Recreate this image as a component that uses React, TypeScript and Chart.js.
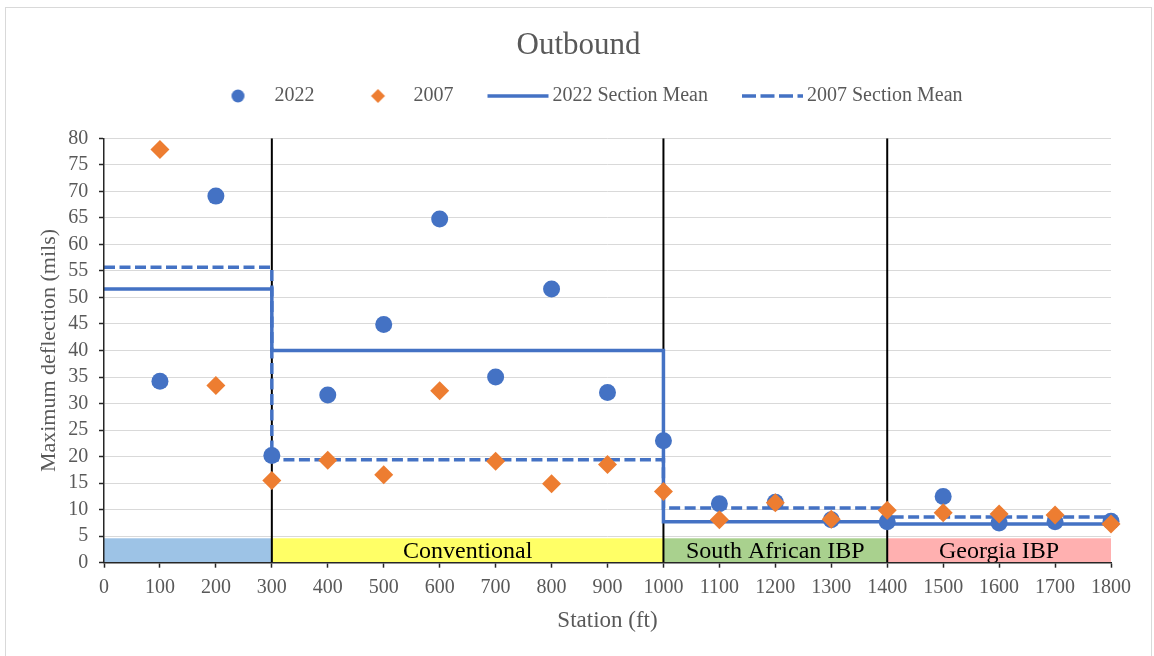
import React, { useEffect, useRef } from 'react';
import { Chart, registerables } from 'chart.js';

Chart.register(...registerables);

// ---- data ----
const stations = [100, 200, 300, 400, 500, 600, 700, 800, 900, 1000, 1100, 1200, 1300, 1400, 1500, 1600, 1700, 1800];
const deflection2022 = [34.2, 69.1, 20.2, 31.6, 44.9, 64.8, 35.0, 51.6, 32.1, 23.0, 11.1, 11.4, 8.1, 7.7, 12.5, 7.5, 7.7, 7.8];
const deflection2007 = [77.9, 33.4, 15.5, 19.3, 16.6, 32.4, 19.1, 14.9, 18.5, 13.4, 8.1, 11.3, 8.2, 9.9, 9.4, 9.2, 9.0, 7.3];
const sectionBounds = [0, 300, 1000, 1400, 1800];
const sectionMean2022 = [51.6, 40.0, 7.7, 7.3];
const sectionMean2007 = [55.7, 19.4, 10.3, 8.6];
const sectionNames = ['', 'Conventional', 'South African IBP', 'Georgia IBP'];
const sectionBandTop = 4.6;
const legendLabels = ['2022', '2007', '2022 Section Mean', '2007 Section Mean'];
const xRange = [0, 1800];
const xStep = 100;
const yRange = [0, 80];
const yStep = 5;

// ---- styles ----
const FONT = "'Liberation Serif', 'Times New Roman', serif";
const BLUE = '#4472C4';
const ORANGE = '#ED7D31';
const TEXT = '#595959';
const AXIS = '#262626';
const GRID = '#D9D9D9';
const BAND_COLORS = ['#9DC3E6', '#FFFF66', '#A9D18E', '#FFB0B0'];

const stepPoints = (means: number[]) =>
  means.flatMap((m, i) => [
    { x: sectionBounds[i], y: m },
    { x: sectionBounds[i + 1], y: m },
  ]);

function makeIcon(kind: string): HTMLCanvasElement {
  const c = document.createElement('canvas');
  c.width = 180;
  c.height = 24;
  const g = c.getContext('2d')!;
  const ts = 135; // text start position inside the icon image
  const cy = 12;
  if (kind === 'circle') {
    g.fillStyle = BLUE;
    g.beginPath();
    g.arc(ts - 36.5, cy, 6.5, 0, Math.PI * 2);
    g.fill();
  } else if (kind === 'diamond') {
    const cx = ts - 35.5;
    const r = 7;
    g.fillStyle = ORANGE;
    g.beginPath();
    g.moveTo(cx, cy - r);
    g.lineTo(cx + r, cy);
    g.lineTo(cx, cy + r);
    g.lineTo(cx - r, cy);
    g.closePath();
    g.fill();
  } else {
    g.strokeStyle = BLUE;
    g.lineWidth = 3.5;
    if (kind === 'dash') g.setLineDash([14, 4.5]);
    g.beginPath();
    g.moveTo(ts - 65, cy);
    g.lineTo(ts - 4, cy);
    g.stroke();
  }
  return c;
}

const sectionBandsPlugin = {
  id: 'sectionBands',
  beforeDatasetsDraw(chart: any) {
    const { ctx, scales } = chart;
    const x = scales.x;
    const y = scales.y;
    ctx.save();
    for (let i = 0; i < sectionNames.length; i++) {
      const x0 = x.getPixelForValue(sectionBounds[i]);
      const x1 = x.getPixelForValue(sectionBounds[i + 1]);
      const yTop = y.getPixelForValue(sectionBandTop);
      const yBot = y.getPixelForValue(0);
      ctx.fillStyle = BAND_COLORS[i];
      ctx.fillRect(x0, yTop, x1 - x0, yBot - yTop);
      if (sectionNames[i]) {
        ctx.fillStyle = '#000000';
        ctx.font = `24px ${FONT}`;
        ctx.textAlign = 'center';
        ctx.textBaseline = 'middle';
        ctx.fillText(sectionNames[i], (x0 + x1) / 2, y.getPixelForValue(sectionBandTop / 2) + 1);
      }
    }
    ctx.restore();
  },
};

const legendGapPlugin = {
  id: 'legendGap',
  beforeInit(chart: any) {
    const lg = chart.legend;
    if (!lg) return;
    const orig = lg.fit;
    lg.fit = function () {
      orig.call(this);
      this.height += 22.3;
    };
  },
};

export default function App() {
  const ref = useRef<HTMLCanvasElement | null>(null);

  useEffect(() => {
    if (!ref.current) return;
    const icons = [makeIcon('circle'), makeIcon('diamond'), makeIcon('solid'), makeIcon('dash')];

    const boundaryLines = sectionBounds.slice(1, -1).map((b) => ({
      type: 'line' as const,
      label: `boundary ${b}`,
      data: [
        { x: b, y: yRange[0] },
        { x: b, y: yRange[1] },
      ],
      borderColor: '#000000',
      borderWidth: 2,
      pointRadius: 0,
      showLine: true,
      fill: false,
      order: 5,
    }));

    const chart = new Chart(ref.current, {
      type: 'scatter',
      data: {
        datasets: [
          {
            type: 'scatter',
            label: legendLabels[0],
            data: stations.map((s, i) => ({ x: s, y: deflection2022[i] })),
            pointStyle: 'circle',
            pointRadius: 8.5,
            pointBackgroundColor: BLUE,
            backgroundColor: BLUE,
            pointBorderWidth: 0,
            borderWidth: 0,
            clip: false,
            order: 1,
          },
          {
            type: 'scatter',
            label: legendLabels[1],
            data: stations.map((s, i) => ({ x: s, y: deflection2007[i] })),
            pointStyle: 'rectRot',
            pointRadius: 9.5,
            pointBackgroundColor: ORANGE,
            backgroundColor: ORANGE,
            pointBorderWidth: 0,
            borderWidth: 0,
            clip: false,
            order: 0,
          },
          {
            type: 'line',
            label: legendLabels[2],
            data: stepPoints(sectionMean2022),
            borderColor: BLUE,
            borderWidth: 3.5,
            pointRadius: 0,
            showLine: true,
            fill: false,
            tension: 0,
            order: 3,
          },
          {
            type: 'line',
            label: legendLabels[3],
            data: stepPoints(sectionMean2007),
            borderColor: BLUE,
            borderWidth: 3.5,
            borderDash: [11, 4.5],
            pointRadius: 0,
            showLine: true,
            fill: false,
            tension: 0,
            order: 2,
          },
          ...boundaryLines,
        ] as any,
      },
      options: {
        responsive: false,
        animation: false,
        devicePixelRatio: 1,
        layout: { padding: 0 },
        plugins: {
          title: {
            display: true,
            text: 'Outbound',
            color: TEXT,
            font: { family: FONT, size: 31, weight: 'normal' },
            padding: { top: 19.4, bottom: 2.4 },
          },
          legend: {
            display: true,
            position: 'top',
            labels: {
              usePointStyle: true,
              pointStyleWidth: 70,
              padding: 19,
              color: TEXT,
              font: { family: FONT, size: 20 },
              generateLabels: () =>
                legendLabels.map((t, i) => ({
                  text: t,
                  pointStyle: icons[i],
                  fillStyle: 'rgba(0,0,0,0)',
                  strokeStyle: 'rgba(0,0,0,0)',
                  lineWidth: 0,
                  hidden: false,
                  datasetIndex: i,
                  fontColor: TEXT,
                })) as any,
            },
          },
          tooltip: { enabled: false },
        },
        scales: {
          x: {
            type: 'linear',
            min: xRange[0],
            max: xRange[1],
            ticks: {
              stepSize: xStep,
              color: TEXT,
              font: { family: FONT, size: 20 },
              padding: 8,
              maxRotation: 0,
              autoSkip: false,
              callback: (v: any) => String(v),
            },
            grid: {
              drawOnChartArea: false,
              drawTicks: true,
              tickLength: 5,
              tickColor: AXIS,
              tickWidth: 1.5,
            },
            border: { display: true, color: AXIS, width: 1.5, z: 1 },
            title: {
              display: true,
              text: 'Station (ft)',
              color: TEXT,
              font: { family: FONT, size: 23 },
              padding: { top: 0, bottom: 33.4 },
            },
            afterFit: (s: any) => {
              s.height = 105.3;
              s.paddingRight = 40;
            },
          },
          y: {
            type: 'linear',
            min: yRange[0],
            max: yRange[1],
            ticks: {
              stepSize: yStep,
              autoSkip: false,
              color: TEXT,
              font: { family: FONT, size: 20 },
              padding: 10.7,
              callback: (v: any) => String(v),
            },
            grid: {
              color: GRID,
              lineWidth: 1,
              drawTicks: true,
              tickLength: 5,
              tickColor: AXIS,
              tickWidth: 1.5,
            },
            border: { display: true, color: AXIS, width: 1.5, z: 1 },
            title: {
              display: true,
              text: 'Maximum deflection (mils)',
              color: TEXT,
              font: { family: FONT, size: 22 },
              padding: { top: 30.2, bottom: 0 },
            },
            afterFit: (s: any) => {
              s.width = 98;
            },
          },
        },
      } as any,
      plugins: [sectionBandsPlugin, legendGapPlugin],
    });

    return () => chart.destroy();
  }, []);

  return (
    <div style={{ position: 'absolute', left: 0, top: 0, width: 1154, height: 656, overflow: 'hidden', background: '#ffffff' }}>
      <div
        style={{
          position: 'absolute',
          left: 5,
          top: 7,
          width: 1145,
          height: 660,
          border: '1px solid #D9D9D9',
          background: '#ffffff',
        }}
      >
        <canvas ref={ref} width={1145} height={660} style={{ display: 'block', width: 1145, height: 660 }} />
      </div>
    </div>
  );
}
